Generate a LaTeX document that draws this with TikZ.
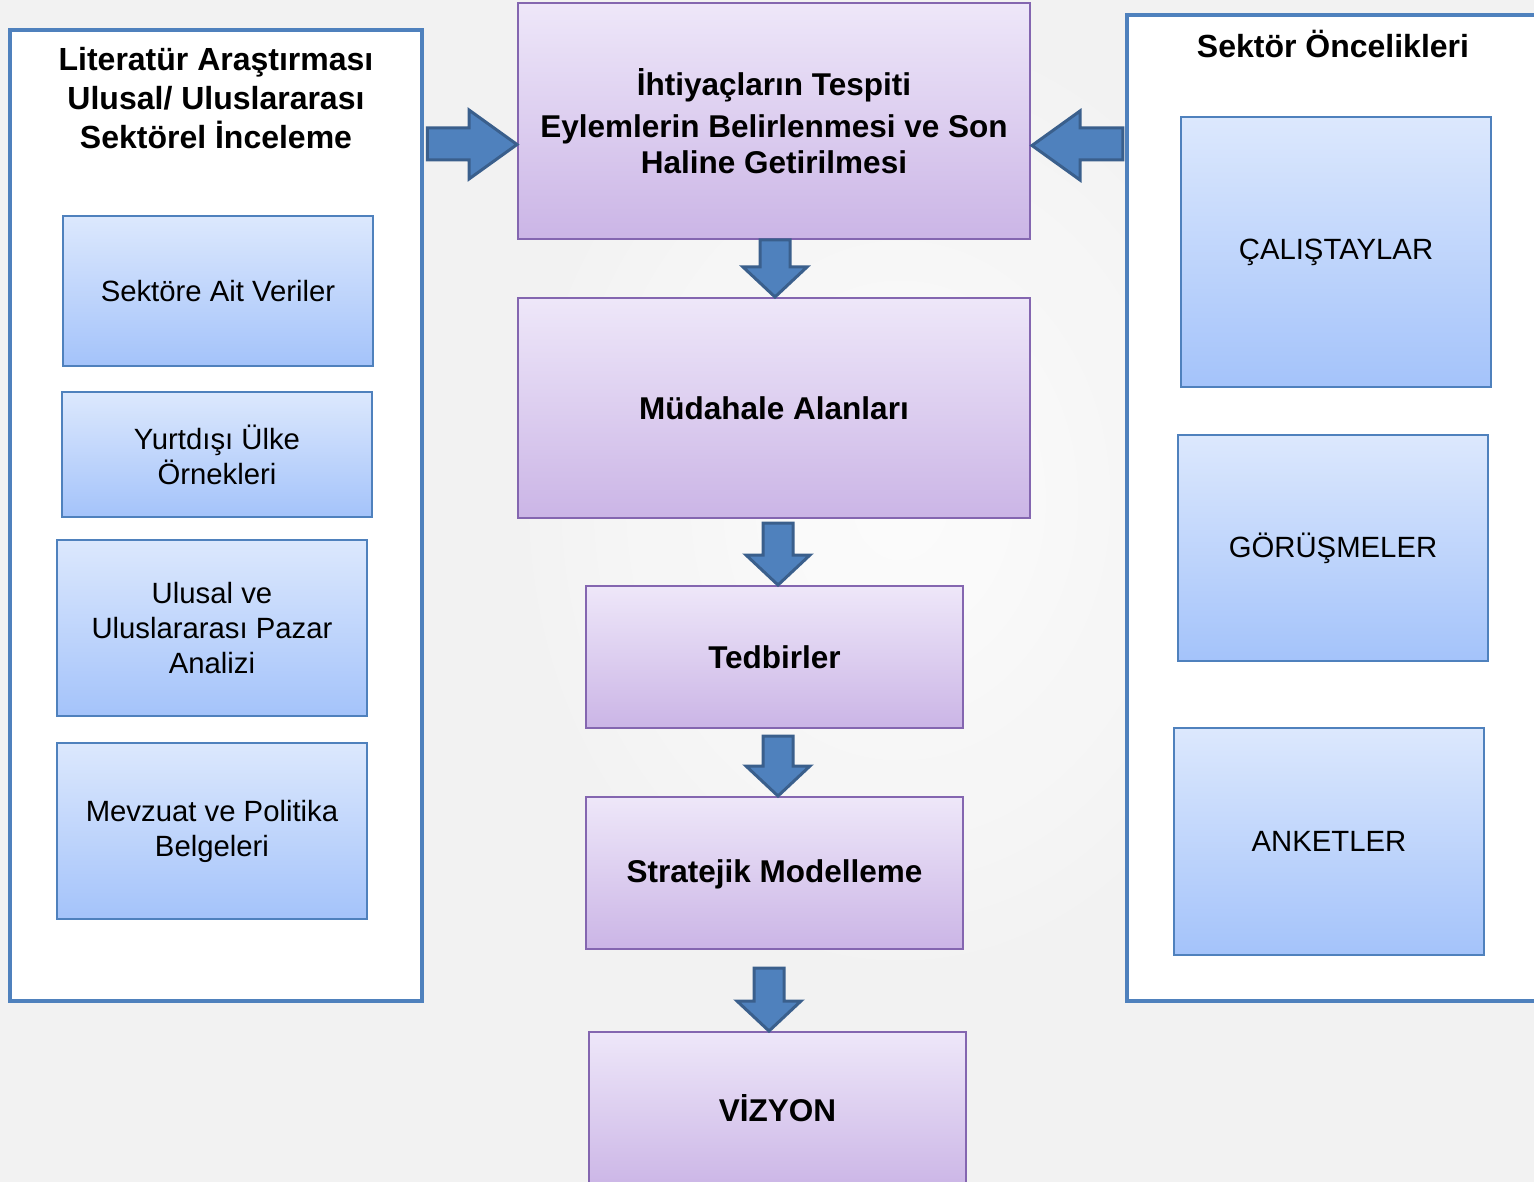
\documentclass[tikz,border=0pt]{standalone}
\usepackage{fontspec}
\setmainfont{Liberation Sans}
\usetikzlibrary{calc}
\definecolor{bgc}{HTML}{F2F2F2}
\definecolor{panelb}{HTML}{4F81BD}
\definecolor{arrfill}{HTML}{4F81BD}
\definecolor{arrline}{HTML}{3A5F8C}
\definecolor{purtop}{HTML}{EEE7F9}
\definecolor{purbot}{HTML}{CBB5E6}
\definecolor{purline}{HTML}{8466B0}
\definecolor{blutop}{HTML}{DCE8FD}
\definecolor{blubot}{HTML}{A4C3FA}
\definecolor{bluline}{HTML}{4F81BD}
\tikzset{
  panel/.style={draw=panelb, line width=4.5pt, fill=white},
  purbox/.style={draw=purline, line width=2pt, top color=purtop, bottom color=purbot,
    inner sep=0pt, align=center, font=\fontsize{31.5}{40}\selectfont\bfseries},
  blubox/.style={draw=bluline, line width=2.5pt, top color=blutop, bottom color=blubot,
    inner sep=0pt, align=center, font=\fontsize{29.3}{35}\selectfont},
  titletext/.style={align=center, font=\fontsize{32}{39}\selectfont\bfseries},
  blockarrow/.style={draw=arrline, line width=3pt, fill=arrfill, line join=miter}
}
\newcommand{\DownArr}[2]{%
  \draw[blockarrow] let \p1=(#1), \p2=(#2) in
    (\x2-15pt,\y1) -- (\x2+15pt,\y1) -- (\x2+15pt,\y2+30pt) -- (\x2+32pt,\y2+30pt)
    -- (\x2,\y2) -- (\x2-32pt,\y2+30pt) -- (\x2-15pt,\y2+30pt) -- cycle;}
\begin{document}
\begin{tikzpicture}[x=1pt,y=-1pt]
\useasboundingbox (0,0) rectangle (1534,1182);
\clip (0,0) rectangle (1534,1182);
\fill[bgc] (0,0) rectangle (1534,1182);
\shade[inner color=white, outer color=bgc, opacity=0.8] (900,500) ellipse (420 and 520);

% panels
\node[panel, minimum width=412pt, minimum height=971pt, inner sep=0pt] (lp) at (216,515.5) {};
\node[panel, minimum width=430pt, minimum height=986pt, inner sep=0pt] (rp) at (1342,508) {};
\node[titletext] (lt) at (216,98) {Literatür Araştırması\\Ulusal/ Uluslararası\\Sektörel İnceleme};
\node[titletext] (rt) at (1333,44) {Sektör Öncelikleri};

% left boxes
\node[blubox, minimum width=310pt, minimum height=150pt] (l1) at (218,291) {Sektöre Ait Veriler};
\node[blubox, minimum width=310pt, minimum height=125pt] (l2) at (217,454.5) {Yurtdışı Ülke\\Örnekleri};
\node[blubox, minimum width=310pt, minimum height=176pt] (l3) at (212,628) {Ulusal ve\\Uluslararası Pazar\\Analizi};
\node[blubox, minimum width=310pt, minimum height=176pt] (l4) at (212,831) {Mevzuat ve Politika\\Belgeleri};

% right boxes
\node[blubox, minimum width=310pt, minimum height=270pt] (r1) at (1336,252) {ÇALIŞTAYLAR};
\node[blubox, minimum width=310pt, minimum height=226pt] (r2) at (1333,548) {GÖRÜŞMELER};
\node[blubox, minimum width=310pt, minimum height=227pt] (r3) at (1329,841.5) {ANKETLER};

% center boxes
\node[purbox, minimum width=512pt, minimum height=236pt] (b1) at (774,121)
  {İhtiyaçların Tespiti\\[2pt]Eylemlerin Belirlenmesi ve Son\\[-4pt]Haline Getirilmesi};
\node[purbox, minimum width=512pt, minimum height=220pt] (b2) at (774,408) {Müdahale Alanları};
\node[purbox, minimum width=377pt, minimum height=142pt] (b3) at (774.5,657) {Tedbirler};
\node[purbox, minimum width=377pt, minimum height=152pt] (b4) at (774.5,873) {};
\node[font=\fontsize{31.5}{40}\selectfont\bfseries] (b4t) at (774.5,874) {Stratejik Modelleme};
\node[purbox, minimum width=377pt, minimum height=158pt] (b5) at (777.5,1111) {};
\node[font=\fontsize{31.5}{40}\selectfont\bfseries] (b5t) at (777.5,1108) {VİZYON};

% down arrows
\coordinate (d1t) at ($(b1.south)+(1,0)$);
\coordinate (d1h) at ($(b2.north)+(1,0)$);
\DownArr{d1t}{d1h}
\coordinate (d2t) at (778,523);
\coordinate (d2h) at ($(b3.north)+(3.5,0)$);
\DownArr{d2t}{d2h}
\coordinate (d3t) at (778,736);
\coordinate (d3h) at ($(b4.north)+(3.5,0)$);
\DownArr{d3t}{d3h}
\coordinate (d4t) at (769,968);
\coordinate (d4h) at ($(b5.north)+(-8.5,0)$);
\DownArr{d4t}{d4h}

% side arrows
\draw[blockarrow] let \p1=(lp.east), \p2=(b1.west) in
  (\x1+3pt,-128pt) -- (\x2-48pt,-128pt) -- (\x2-48pt,-110pt) -- (\x2,-144.5pt)
  -- (\x2-48pt,-179pt) -- (\x2-48pt,-160pt) -- (\x1+3pt,-160pt) -- cycle;
\draw[blockarrow] let \p1=(rp.west), \p2=(b1.east) in
  (\x1-2pt,-128pt) -- (\x2+49pt,-128pt) -- (\x2+49pt,-111pt) -- (\x2+1pt,-145.5pt)
  -- (\x2+49pt,-180pt) -- (\x2+49pt,-160pt) -- (\x1-2pt,-160pt) -- cycle;
\end{tikzpicture}
\end{document}
